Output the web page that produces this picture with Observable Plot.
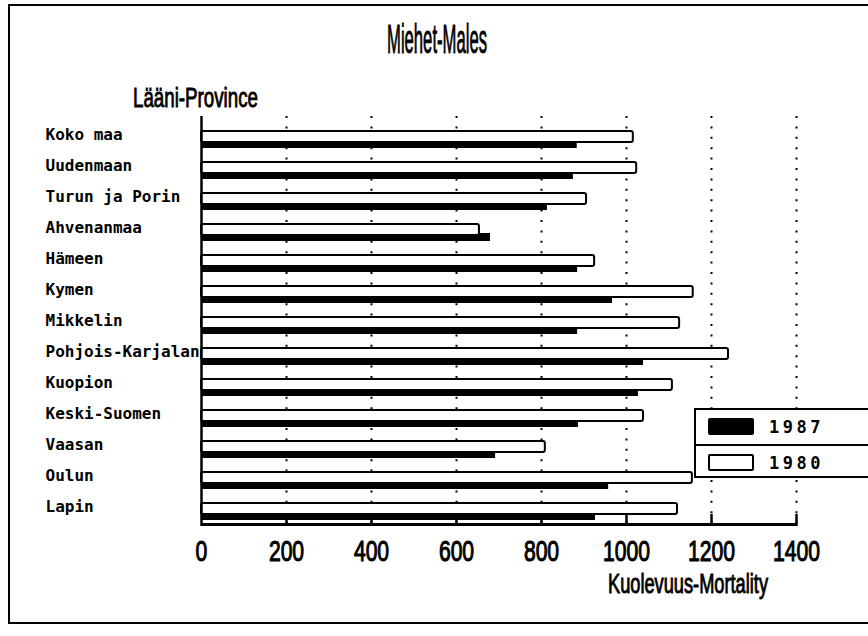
<!DOCTYPE html>
<html>
<head>
<meta charset="utf-8">
<script src="https://cdn.jsdelivr.net/npm/d3@7"></script>
<script src="https://cdn.jsdelivr.net/npm/@observablehq/plot@0.6"></script>
<style>
  body { margin: 0; background: #fff; }
  #wrap { position: relative; width: 868px; height: 636px; overflow: hidden; background: #fff; }
  #chart { position: absolute; left: 0; top: 0; }
  #outer { position: absolute; left: 8px; top: 4px; width: 900px; height: 620px; border: 2px solid #000; box-sizing: border-box; pointer-events: none; }
  .lbl { position: absolute; font-family: "Liberation Sans Narrow", "Liberation Sans", sans-serif; font-weight: normal; -webkit-text-stroke: 0.9px #000; color: #000; white-space: nowrap; line-height: 1; display: inline-block; transform-origin: 0 0; }
  #legend { position: absolute; left: 694px; top: 408px; width: 220px; height: 70px; border: 2.5px solid #000; box-sizing: border-box; background: #fff; }
  .lrow { position: relative; height: 34px; box-sizing: border-box; }
  .sw { position: absolute; left: 12px; top: 8px; width: 46px; height: 17px; box-sizing: border-box; border: 2px solid #000; border-radius: 2px; }
  .ltxt { position: absolute; left: 73px; top: 7px; font-family: "DejaVu Sans Mono", monospace; font-weight: bold; font-size: 17px; letter-spacing: 3.5px; color: #000; }
</style>
</head>
<body>
<div id="wrap">
  <div id="chart"></div>
  <div id="outer"></div>
  <div id="title" class="lbl" style="font-size:41px;">Miehet-Males</div>
  <div id="ylab" class="lbl" style="font-size:28px;">Lääni-Province</div>
  <div id="xlab" class="lbl" style="font-size:27px;">Kuolevuus-Mortality</div>
  <div id="legend"></div>
</div>
<script>
// ---- data ----
const categories = ["Koko maa", "Uudenmaan", "Turun ja Porin", "Ahvenanmaa", "Hämeen", "Kymen", "Mikkelin",
  "Pohjois-Karjalan", "Kuopion", "Keski-Suomen", "Vaasan", "Oulun", "Lapin"];
const mort1980 = [1016, 1024, 906, 654, 925, 1157, 1125, 1240, 1108, 1040, 809, 1155, 1120];
const mort1987 = [884, 875, 814, 680, 885, 967, 885, 1040, 1028, 887, 692, 958, 927];
const xTicks = [0, 200, 400, 600, 800, 1000, 1200, 1400];
const seriesNames = ["1987", "1980"];
const seriesFill = ["#000", "#fff"];

const rows = categories.map((c, i) => ({ province: c, v1980: mort1980[i], v1987: mort1987[i] }));

// ---- layout ----
const W = 868, H = 636, mL = 201, mR = 72, mT = 116, mB = 110;
const frameH = H - mT - mB;
const numFont = '"Liberation Sans Narrow", "Liberation Sans", sans-serif';

const chart = Plot.plot({
  width: W, height: H,
  marginLeft: mL, marginRight: mR, marginTop: mT, marginBottom: mB,
  style: { background: "transparent", overflow: "visible" },
  x: { domain: [0, 1400], axis: null },
  y: { domain: categories, paddingInner: 0.462, paddingOuter: 0.234, align: 0.72, axis: null },
  marks: [
    Plot.gridX(xTicks.filter(d => d > 0), { stroke: "#000", strokeOpacity: 1, strokeWidth: 2, strokeDasharray: "2,8.4" }),
    Plot.barX(rows, { y: "province", x: "v1987", fill: seriesFill[0], insetTop: 9 }),
    Plot.barX(rows, { y: "province", x: "v1980", fill: seriesFill[1], stroke: "#000", strokeWidth: 2, insetBottom: 6, rx: 2 }),
    Plot.ruleX([0], { stroke: "#000", strokeWidth: 2.5 }),
    Plot.barX([0], { x1: 0, x2: 1400, fill: "#000", insetTop: frameH - 3 }),
    Plot.tickX(xTicks.filter(d => d > 0), { x: d => d, stroke: "#000", strokeWidth: 2.5, insetTop: frameH - 12 }),
    Plot.axisX(xTicks, { tickSize: 0, tickPadding: 13, tickFormat: d => String(d), fontSize: 30,
      fontFamily: numFont, fill: "#000" }),
    Plot.text(categories, { y: d => d, frameAnchor: "left", textAnchor: "start", dx: -156, dy: -5.5,
      fontFamily: '"DejaVu Sans Mono", monospace', fontWeight: "bold", fontSize: 16, fill: "#000" })
  ]
});
document.getElementById("chart").appendChild(chart);

// condense and embolden axis tick labels like the original
const tickTexts = chart.querySelectorAll('g[aria-label="x-axis tick label"] text');
let ref = null;
tickTexts.forEach(t => { if (t.textContent === "1000") ref = t; });
const tickScale = ref ? 47 / ref.getComputedTextLength() : 0.75;
tickTexts.forEach(t => {
  const tr = t.getAttribute("transform") || "";
  t.setAttribute("transform", tr + ` scale(${tickScale},1)`);
  t.style.stroke = "#000";
  t.style.strokeWidth = "1.1px";
});

// ---- text labels ----
function fit(id, left, top, targetW, center) {
  const el = document.getElementById(id);
  const w = el.getBoundingClientRect().width;
  const s = targetW / w;
  el.style.transform = `scaleX(${s})`;
  el.style.left = (center ? left - targetW / 2 : left) + "px";
  el.style.top = top + "px";
}
fit("title", 437, 19, 100, true);
fit("ylab", 133, 84, 125, false);
fit("xlab", 608, 571, 160, false);

// ---- legend ----
const leg = document.getElementById("legend");
seriesNames.forEach((name, i) => {
  const row = document.createElement("div");
  row.className = "lrow";
  if (i > 0) row.style.borderTop = "2.5px solid #000";
  const sw = document.createElement("span");
  sw.className = "sw";
  sw.style.background = seriesFill[i];
  const tx = document.createElement("span");
  tx.className = "ltxt";
  tx.textContent = name;
  row.appendChild(sw); row.appendChild(tx);
  leg.appendChild(row);
});
</script>
</body>
</html>
